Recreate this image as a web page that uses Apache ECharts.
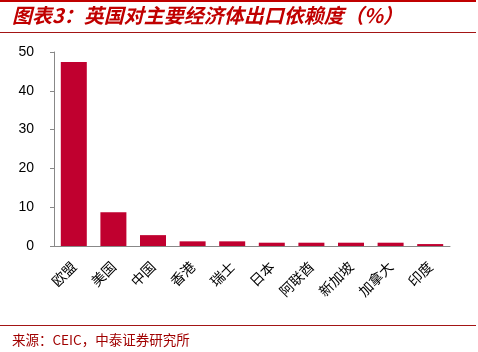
<!DOCTYPE html>
<html>
<head>
<meta charset="utf-8">
<script src="https://cdn.jsdelivr.net/npm/echarts@6/dist/echarts.min.js"></script>
<style>
  html, body { margin: 0; padding: 0; background: #fff; }
  #main { width: 478px; height: 352px; }
</style>
</head>
<body>
<div id="main"></div>
<script>
// 数据
const categories = ['欧盟', '美国', '中国', '香港', '瑞士', '日本', '阿联酋', '新加坡', '加拿大', '印度'];
const values = [47.4, 8.7, 2.8, 1.2, 1.2, 0.85, 0.85, 0.85, 0.85, 0.5];
const yTicks = [0, 10, 20, 30, 40, 50];

const titleText = '图表3：英国对主要经济体出口依赖度（%）';
const sourceText = '来源：CEIC，中泰证券研究所';

const myChart = echarts.init(document.getElementById('main'));

const option = {
  animation: false,
  graphic: [
    { type: 'rect', shape: { x: 0, y: 0, width: 476, height: 2 }, style: { fill: '#c00000' } },
    {
      type: 'text', left: 12, top: 5,
      style: {
        text: titleText, fill: '#c00000',
        font: 'italic bold 20px "Noto Sans CJK SC"'
      }
    },
    { type: 'rect', shape: { x: 0, y: 32, width: 476, height: 1 }, style: { fill: '#a31515' } },
    { type: 'rect', shape: { x: 0, y: 325, width: 476, height: 1 }, style: { fill: '#a31515' } },
    {
      type: 'text', left: 12, top: 333,
      style: {
        text: sourceText, fill: '#a00000',
        font: '13.5px "Noto Sans CJK SC"'
      }
    }
  ],
  grid: { left: 54, right: 28, top: 52, bottom: 106 },
  xAxis: {
    type: 'category',
    data: categories,
    axisLine: { lineStyle: { color: '#888' } },
    axisTick: { length: 4, lineStyle: { color: '#888' } },
    axisLabel: {
      rotate: 45, margin: 18, color: '#000',
      fontSize: 14, fontFamily: 'Noto Sans CJK SC'
    }
  },
  yAxis: {
    type: 'value',
    min: yTicks[0], max: yTicks[yTicks.length - 1], interval: 10,
    axisLine: { show: true, lineStyle: { color: '#888' } },
    axisTick: { show: true, length: 4, lineStyle: { color: '#888' } },
    splitLine: { show: false },
    axisLabel: {
      margin: 20, color: '#000',
      fontSize: 14, fontFamily: 'Liberation Sans'
    }
  },
  series: [
    {
      type: 'bar',
      data: values,
      barWidth: 26,
      itemStyle: { color: '#c0002f' }
    }
  ]
};

myChart.setOption(option);
</script>
</body>
</html>
